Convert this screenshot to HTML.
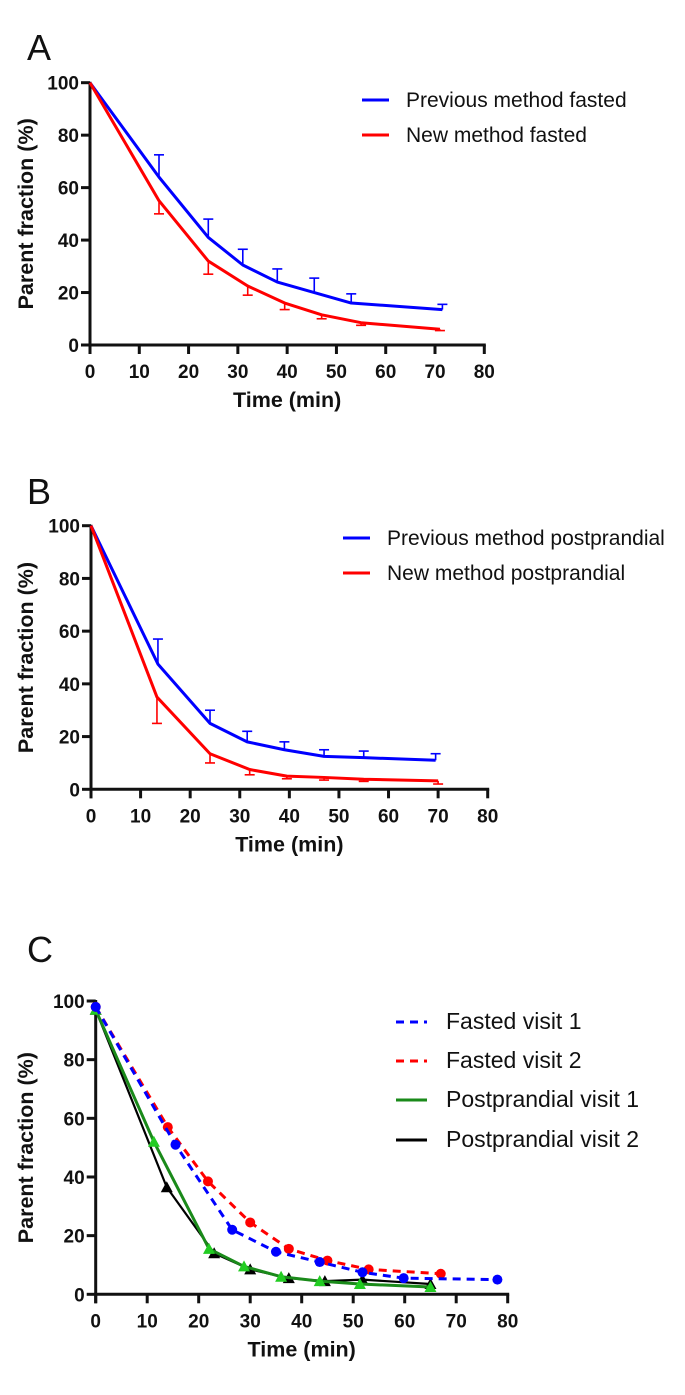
<!DOCTYPE html>
<html><head><meta charset="utf-8"><style>
body{margin:0;background:#fff;}
svg{display:block;font-family:"Liberation Sans",Arial,sans-serif;}
.tick{font-weight:bold;font-size:19px;fill:#111;}
.title{font-weight:bold;font-size:21.5px;fill:#111;}
.leg{font-size:21px;fill:#111;}
.legc{font-size:23px;fill:#111;}
.letter{font-size:36px;fill:#111;}
</style></head><body>
<svg id="fig" width="685" height="1395" viewBox="0 0 685 1395" xmlns="http://www.w3.org/2000/svg"></svg>
<script>
// ----- Panel A data -----
const aTime1 = [0, 14, 24, 31, 38, 45.5, 53, 71.5];
const aPrev = [100, 64, 41, 30.5, 24, 20, 16, 13.5];
const aPrevErr = [0, 72.5, 48, 36.5, 29, 25.5, 19.5, 15.5];
const aTime2 = [0, 14, 24, 32, 39.5, 47, 55, 71];
const aNew = [100, 55, 32, 22.5, 16, 11.5, 8.5, 6];
const aNewErr = [100, 50, 27, 19, 13.5, 10, 7.5, 5.5];
// ----- Panel B data -----
const bTime1 = [0, 13.5, 24, 31.5, 39, 47, 55, 69.5];
const bPrev = [100, 47.5, 25, 18, 15, 12.5, 12, 11];
const bPrevErr = [0, 57, 30, 22, 18, 15, 14.5, 13.5];
const bTime2 = [0, 13.3, 24, 32, 39.5, 47, 55, 70];
const bNew = [100, 35, 13.5, 7.5, 5, 4.5, 3.8, 3.2];
const bNewErr = [100, 25, 10, 5.5, 4, 3.5, 3, 2];
// ----- Panel C data -----
const cTimeF1 = [0, 15.5, 26.5, 35, 43.5, 51.8, 59.8, 78];
const cF1 = [98, 51, 22, 14.5, 11, 7.5, 5.5, 5];
const cTimeF2 = [0, 14, 21.8, 30, 37.5, 45, 53, 67];
const cF2 = [98, 57, 38.5, 24.5, 15.5, 11.5, 8.5, 7];
const cTimeP1 = [0, 11.3, 22, 28.8, 36, 43.5, 51.3, 65];
const cP1 = [97, 52, 15.5, 9.5, 6, 4.5, 3.5, 2.5];
const cTimeP2 = [0, 13.8, 23, 30, 37.5, 44.5, 51.8, 65];
const cP2 = [97, 36.5, 14, 8.5, 5.5, 4.5, 5, 3.5];
const xTicks = [0,10,20,30,40,50,60,70,80];
const yTicks = [0,20,40,60,80,100];

const NS="http://www.w3.org/2000/svg";
const svg=document.getElementById('fig');
function el(tag,attrs,parent){const e=document.createElementNS(NS,tag);for(const k in attrs)e.setAttribute(k,attrs[k]);(parent||svg).appendChild(e);return e;}

function panel(p){
  const g=el('g',{});
  
  
  const X=v=>p.x0+(p.x80-p.x0)*v/80, Y=v=>p.y0+(p.y100-p.y0)*v/100;
  const t=el('text',{x:p.lx,y:p.ly,class:'letter'},g);t.textContent=p.id.toUpperCase();
  
  
  const ax=el('g',{stroke:'#111','stroke-width':3,fill:'none'},g);
  
  
  el('line',{x1:X(0),y1:Y(100)-1,x2:X(0),y2:Y(0)+9},ax);
  el('line',{x1:X(0)-1.5,y1:Y(0),x2:X(80)+1.5,y2:Y(0)},ax);
  xTicks.forEach(v=>{el('line',{x1:X(v),y1:Y(0),x2:X(v),y2:Y(0)+9},ax);
    const tt=el('text',{x:X(v),y:Y(0)+33,'text-anchor':'middle',class:'tick'},g);tt.textContent=v;
    
    });
  yTicks.forEach(v=>{el('line',{x1:X(0)-9,y1:Y(v),x2:X(0),y2:Y(v)},ax);
    const tt=el('text',{x:X(0)-11,y:Y(v)+7,'text-anchor':'end',class:'tick'},g);tt.textContent=v;
    
    });
  const xt=el('text',{x:(X(0)+X(80))/2,y:Y(0)+62,'text-anchor':'middle',class:'title'},g);xt.textContent='Time (min)';
  
  
  const cy=(Y(0)+Y(100))/2;
  const yt=el('text',{x:33,y:cy,'text-anchor':'middle',class:'title',transform:`rotate(-90 33 ${cy})`},g);yt.textContent='Parent fraction (%)';
  
  
  p.series.forEach(s=>{
    const sg=el('g',{},g);
    
    
    if(s.err){s.xs.forEach((x,i)=>{if(i===0)return;
      el('line',{x1:X(x),y1:Y(s.ys[i]),x2:X(x),y2:Y(s.err[i]),stroke:s.color,'stroke-width':1.6},sg);
      el('line',{x1:X(x)-5,y1:Y(s.err[i]),x2:X(x)+5,y2:Y(s.err[i]),stroke:s.color,'stroke-width':1.6},sg);});}
    el('polyline',{points:s.xs.map((x,i)=>X(x)+','+Y(s.ys[i])).join(' '),fill:'none',stroke:s.color,'stroke-width':s.w||3,'stroke-dasharray':s.dash||'none','stroke-linejoin':'round'},sg);
    s.xs.forEach((x,i)=>{
      if(s.marker==='circle')el('circle',{cx:X(x),cy:Y(s.ys[i]),r:5,fill:s.mcolor},sg);
      if(s.marker==='tri'){const cx=X(x),cy2=Y(s.ys[i]);el('polygon',{points:`${cx},${cy2-6} ${cx-6},${cy2+5} ${cx+6},${cy2+5}`,fill:s.mcolor},sg);}
    });
    const lg=el('g',{},g);
    
    
    el('line',{x1:p.legX,y1:s.ly,x2:p.legX+p.legW,y2:s.ly,stroke:s.color,'stroke-width':3,'stroke-dasharray':s.dash||'none'},lg);
    const lt=el('text',{x:p.legX+p.legW+p.legGap,y:s.ly+7,class:p.legClass},lg);lt.textContent=s.label;
  });
}
panel({id:'a',lx:27,ly:60,x0:90,x80:484.3,y0:345,y100:82.7,legX:362,legW:27,legGap:17,legClass:'leg',series:[
 {key:'previous-fasted',xs:aTime1,ys:aPrev,err:aPrevErr,color:'#0000ff',label:'Previous method fasted',ly:100},
 {key:'new-fasted',xs:aTime2,ys:aNew,err:aNewErr,color:'#ff0000',label:'New method fasted',ly:135}]});
panel({id:'b',lx:27,ly:504,x0:91,x80:487.7,y0:789.3,y100:525.7,legX:343,legW:27,legGap:17,legClass:'leg',series:[
 {key:'previous-postprandial',xs:bTime1,ys:bPrev,err:bPrevErr,color:'#0000ff',label:'Previous method postprandial',ly:538},
 {key:'new-postprandial',xs:bTime2,ys:bNew,err:bNewErr,color:'#ff0000',label:'New method postprandial',ly:573}]});
panel({id:'c',lx:27,ly:962,x0:95.7,x80:507.7,y0:1294.3,y100:1001,legX:396,legW:31,legGap:19,legClass:'legc',series:[
 {key:'postprandial-visit-2',xs:cTimeP2,ys:cP2,color:'#000',mcolor:'#000',marker:'tri',label:'Postprandial visit 2',ly:1140,w:2.2},
 {key:'postprandial-visit-1',xs:cTimeP1,ys:cP1,color:'#1a8a1a',mcolor:'#22cc22',marker:'tri',label:'Postprandial visit 1',ly:1100},
 {key:'fasted-visit-2',xs:cTimeF2,ys:cF2,color:'#ff0000',mcolor:'#ff0000',marker:'circle',dash:'8 6',label:'Fasted visit 2',ly:1061},
 {key:'fasted-visit-1',xs:cTimeF1,ys:cF1,color:'#0000ff',mcolor:'#0000ff',marker:'circle',dash:'8 6',label:'Fasted visit 1',ly:1022}]});
</script>
</body></html>
